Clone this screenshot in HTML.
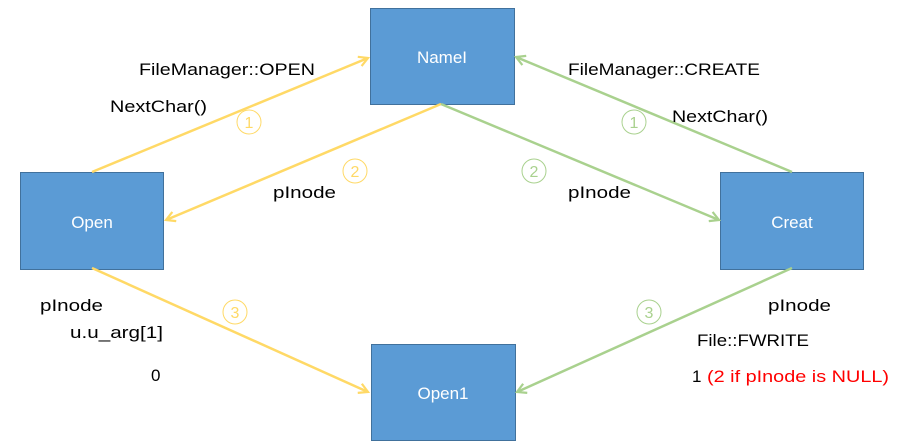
<!DOCTYPE html>
<html><head><meta charset="utf-8"><style>
html,body{margin:0;padding:0;background:#fff;width:904px;height:446px;overflow:hidden}
svg{display:block;font-family:"Liberation Sans",sans-serif}
</style></head><body>
<svg width="904" height="446" viewBox="0 0 904 446">
<defs>
<marker id="ay" markerWidth="12" markerHeight="12" refX="10" refY="6" orient="auto" markerUnits="userSpaceOnUse"><path d="M1,1 L10,6 L1,11" fill="none" stroke="#FFD966" stroke-width="2.2"/></marker>
<marker id="ag" markerWidth="12" markerHeight="12" refX="10" refY="6" orient="auto" markerUnits="userSpaceOnUse"><path d="M1,1 L10,6 L1,11" fill="none" stroke="#A9D18E" stroke-width="2.2"/></marker>
</defs>
<g fill="#5B9BD5" stroke="#41719C" stroke-width="1">
<rect x="370.5" y="8.5" width="144" height="96"/>
<rect x="20.5" y="172.5" width="143" height="97"/>
<rect x="720.5" y="172.5" width="143" height="97"/>
<rect x="371.5" y="344.5" width="144" height="96"/>
</g>
<g fill="#fff" font-size="17" text-anchor="middle">
<text x="442" y="63">NameI</text>
<text x="92" y="228">Open</text>
<text x="792" y="228">Creat</text>
<text x="443" y="399">Open1</text>
</g>
<g stroke-width="2.5" fill="none">
<line x1="92" y1="172" x2="368" y2="58" stroke="#FFD966" marker-end="url(#ay)"/>
<line x1="441" y1="104" x2="166" y2="220" stroke="#FFD966" marker-end="url(#ay)"/>
<line x1="92" y1="268" x2="368" y2="392" stroke="#FFD966" marker-end="url(#ay)"/>
<line x1="792" y1="172" x2="516" y2="57" stroke="#A9D18E" marker-end="url(#ag)"/>
<line x1="441" y1="104" x2="719" y2="220" stroke="#A9D18E" marker-end="url(#ag)"/>
<line x1="792" y1="268" x2="517" y2="392" stroke="#A9D18E" marker-end="url(#ag)"/>
</g>
<g fill="none" stroke-width="1">
<circle cx="249" cy="122" r="12" stroke="#FFD966"/>
<circle cx="355" cy="171" r="12" stroke="#FFD966"/>
<circle cx="235" cy="312" r="12" stroke="#FFD966"/>
<circle cx="634" cy="122" r="12" stroke="#A9D18E"/>
<circle cx="534" cy="171" r="12" stroke="#A9D18E"/>
<circle cx="649" cy="312" r="12" stroke="#A9D18E"/>
</g>
<g font-size="16" text-anchor="middle">
<text x="249" y="128" fill="#FFD966">1</text>
<text x="355" y="177" fill="#FFD966">2</text>
<text x="235" y="318" fill="#FFD966">3</text>
<text x="634" y="128" fill="#A9D18E">1</text>
<text x="534" y="177" fill="#A9D18E">2</text>
<text x="649" y="318" fill="#A9D18E">3</text>
</g>
<g font-size="17" fill="#000">
<text x="139" y="75" textLength="176" lengthAdjust="spacingAndGlyphs">FileManager::OPEN</text>
<text x="110" y="112" textLength="97" lengthAdjust="spacingAndGlyphs">NextChar()</text>
<text x="273" y="198" textLength="63" lengthAdjust="spacingAndGlyphs">pInode</text>
<text x="40" y="311" textLength="63" lengthAdjust="spacingAndGlyphs">pInode</text>
<text x="70" y="338" textLength="93" lengthAdjust="spacingAndGlyphs">u.u_arg[1]</text>
<text x="151" y="381">0</text>
<text x="568" y="75" textLength="192" lengthAdjust="spacingAndGlyphs">FileManager::CREATE</text>
<text x="672" y="122" textLength="96" lengthAdjust="spacingAndGlyphs">NextChar()</text>
<text x="568" y="198" textLength="63" lengthAdjust="spacingAndGlyphs">pInode</text>
<text x="768" y="311" textLength="63" lengthAdjust="spacingAndGlyphs">pInode</text>
<text x="697" y="346" textLength="112" lengthAdjust="spacingAndGlyphs">File::FWRITE</text>
<text x="692" y="382">1</text>
<text x="707" y="382" fill="#FF0000" textLength="182" lengthAdjust="spacingAndGlyphs">(2 if pInode is NULL)</text>
</g>
</svg>
</body></html>
